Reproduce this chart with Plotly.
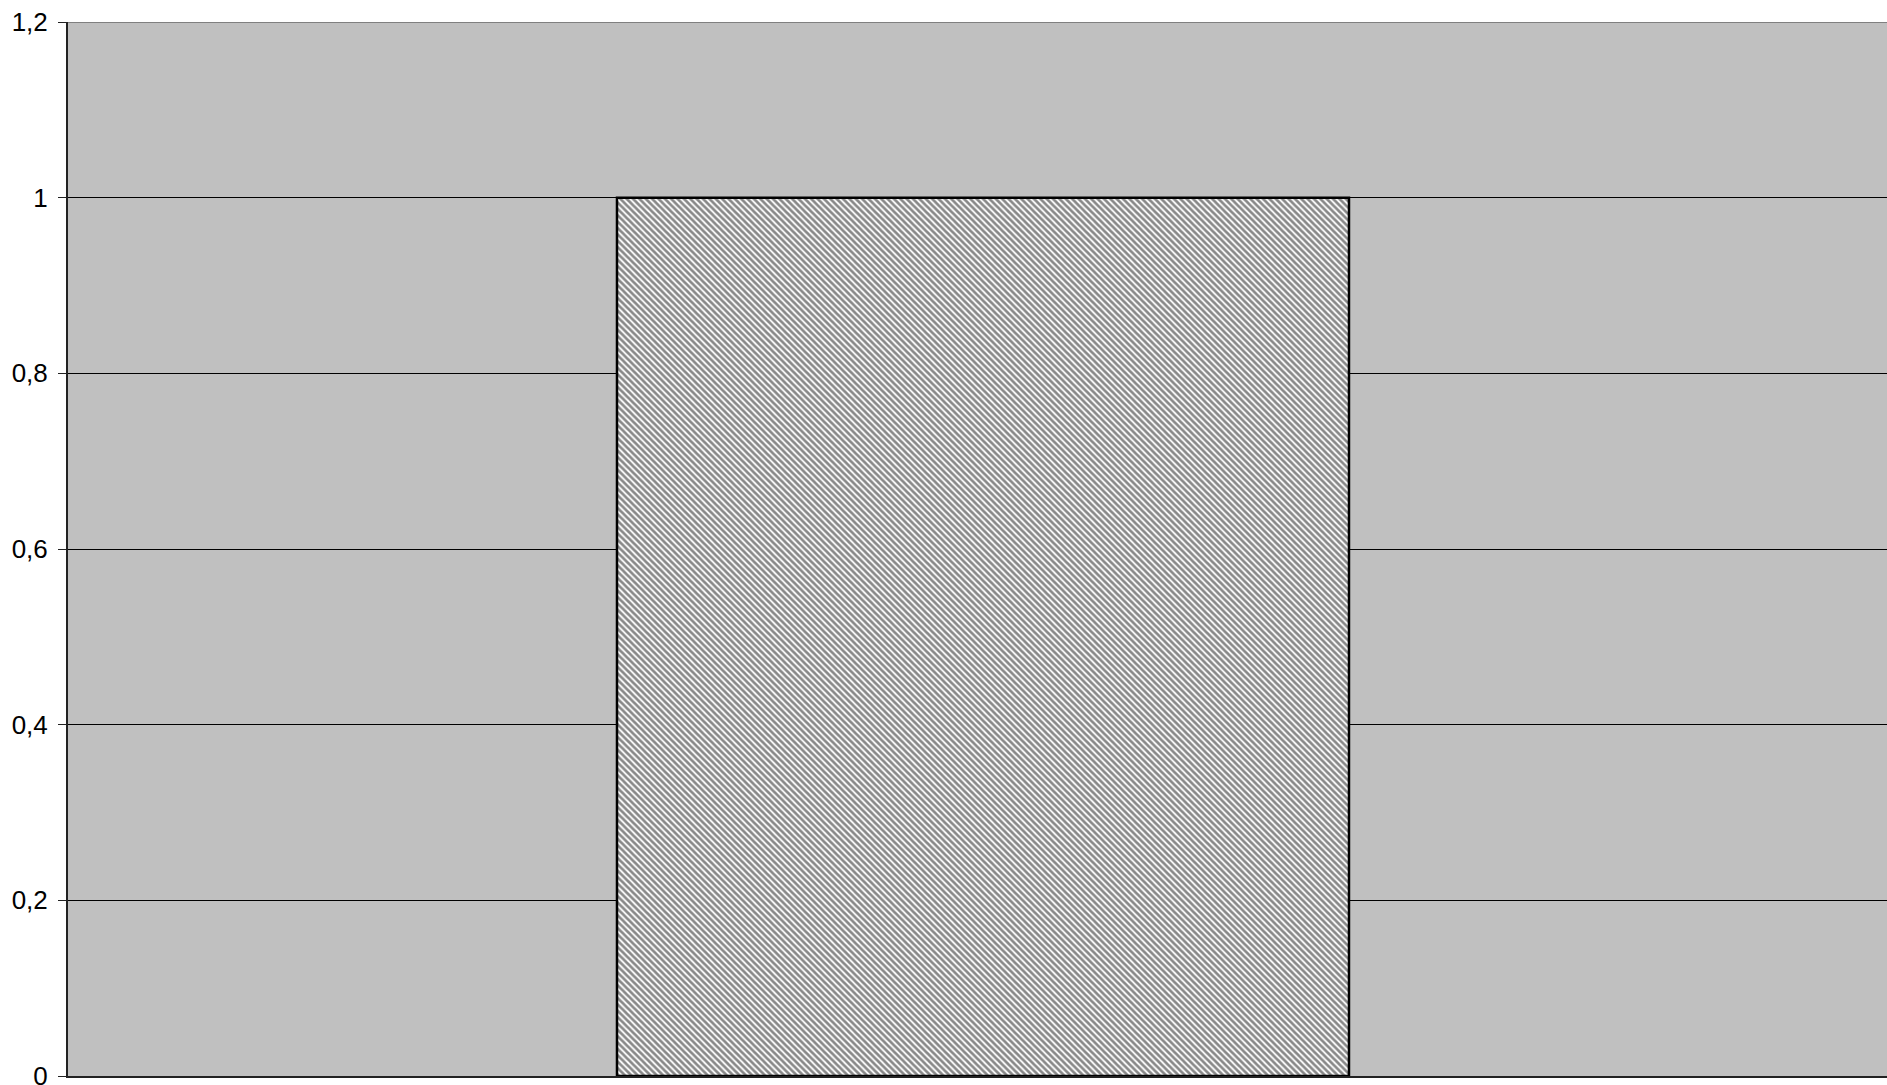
import plotly.graph_objects as go

categories = ["A"]
values = [1]
y_ticks = [0, 0.2, 0.4, 0.6, 0.8, 1, 1.2]

fig = go.Figure()
fig.add_trace(go.Bar(
    x=categories, y=values, width=0.4,
    marker=dict(
        color="white",
        line=dict(color="black", width=2.5),
        pattern=dict(shape="\\", fgcolor="#111111", bgcolor="white", size=4.5, solidity=0.6),
    ),
    showlegend=False,
))

fig.add_shape(type="line", xref="paper", yref="y", x0=0, x1=1, y0=1.2, y1=1.2,
              line=dict(color="#808080", width=2), layer="above")

fig.update_layout(
    width=1887, height=1085,
    margin=dict(l=68, r=0, t=22, b=9),
    paper_bgcolor="white", plot_bgcolor="#C0C0C0",
    separators=", ",
    font=dict(family="Liberation Sans, Arial, sans-serif", size=26, color="black"),
    xaxis=dict(range=[-0.5, 0.494], showticklabels=False, showgrid=False, zeroline=False,
               showline=True, linecolor="#222222", linewidth=2, ticks=""),
    yaxis=dict(range=[0, 1.2], tickvals=y_ticks, showgrid=True, gridcolor="black", gridwidth=1,
               zeroline=False, showline=True, linecolor="#222222", linewidth=2,
               ticks="outside", ticklen=8, tickcolor="#222222", tickwidth=1,
               ticklabelstandoff=5, tickfont=dict(size=26), ticklabeloverflow="allow",
               automargin=False),
    bargap=0.6,
)

fig.write_html("out.html", config={"displayModeBar": False},
               post_script="document.body.style.margin='0';document.body.style.overflow='hidden';")
